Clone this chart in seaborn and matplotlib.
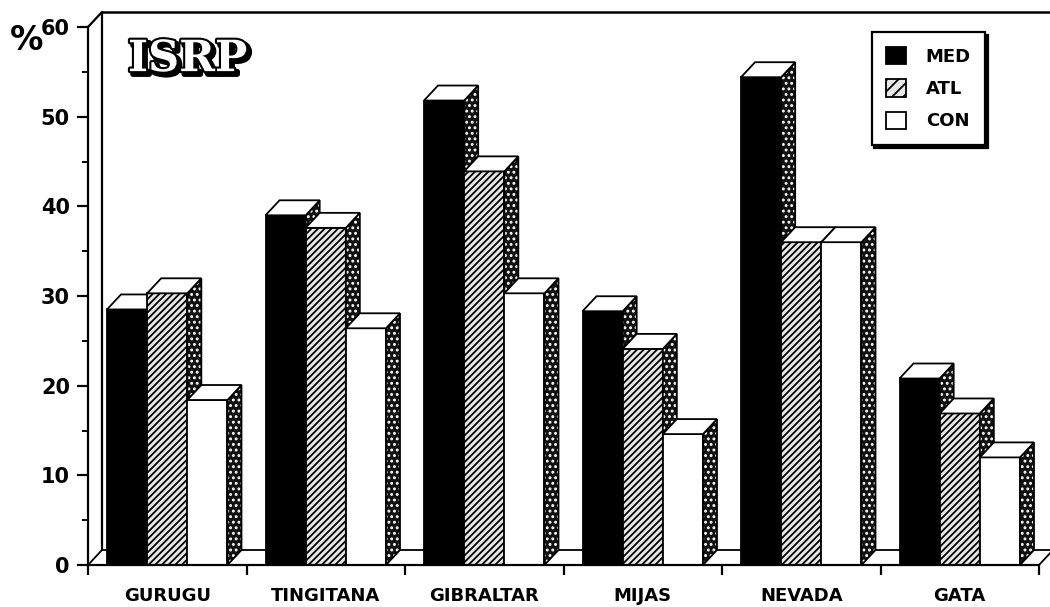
import numpy as np
import pandas as pd
import matplotlib
matplotlib.use("Agg")
import matplotlib.pyplot as plt
import seaborn as sns
from matplotlib.patches import Polygon, Patch
import matplotlib.patheffects as pe

# ---------------- data ----------------
regions = ["GURUGU", "TINGITANA", "GIBRALTAR", "MIJAS", "NEVADA", "GATA"]
series = ["MED", "ATL", "CON"]
med = [28.5, 39.0, 51.8, 28.3, 54.4, 20.8]
atl = [30.3, 37.6, 43.9, 24.1, 36.0, 16.9]
con = [18.4, 26.4, 30.3, 14.6, 36.0, 12.0]
yticks = [0, 10, 20, 30, 40, 50, 60]
title = "ISRP"
ylabel = "%"

# ---------------- styles ----------------
front_colors = {"MED": "black", "ATL": "#e8e8e8", "CON": "white"}
front_hatch = {"MED": "", "ATL": "/////", "CON": ""}

sns.set_style("ticks")
plt.rcParams["font.family"] = ["DejaVu Sans"]
plt.rcParams["font.weight"] = "bold"
plt.rcParams["hatch.linewidth"] = 1.3
for k in ["text.color", "axes.labelcolor", "xtick.color", "ytick.color",
          "axes.edgecolor"]:
    plt.rcParams[k] = "black"

rows = []
for s, vals in zip(series, [med, atl, con]):
    for r, v in zip(regions, vals):
        rows.append({"region": r, "series": s, "value": v})
df = pd.DataFrame(rows)

W, H = 1050, 607
fig = plt.figure(figsize=(W / 100, H / 100), dpi=100)
fig.patch.set_facecolor("white")
ax = fig.add_axes([88 / W, 42 / H, 951 / W, 538 / H])

sns.barplot(data=df, x="region", y="value", hue="series", order=regions,
            hue_order=series, palette=front_colors, width=0.76, gap=0,
            saturation=1, edgecolor="black", linewidth=1.3, legend=False,
            errorbar=None, ax=ax)

ax.set_xlim(-0.5, len(regions) - 0.5)
ax.set_ylim(0, 60)
ax.set_facecolor("white")

# depth of the pseudo-3D effect, in data units (from pixel depth)
p0 = ax.transData.transform((0, 0))
p1 = ax.transData.transform((1, 1))
dx = 14 / (p1[0] - p0[0])
dy = 15 / (p1[1] - p0[1])

LW = 1.3
for i, (s, cont) in enumerate(zip(series, ax.containers)):
    for rect in cont:
        x0, w, h = rect.get_x(), rect.get_width(), rect.get_height()
        z = 3 + i
        rect.set_zorder(z)
        rect.set_hatch(front_hatch[s])
        side_pts = [(x0 + w, 0), (x0 + w + dx, dy), (x0 + w + dx, h + dy), (x0 + w, h)]
        ax.add_patch(Polygon(side_pts, closed=True, facecolor="#111111", edgecolor="white",
                             hatch="...", lw=0, zorder=z + 0.1))
        ax.add_patch(Polygon(side_pts, closed=True, fill=False, edgecolor="black",
                             lw=LW, zorder=z + 0.15))
        top_pts = [(x0, h), (x0 + w, h), (x0 + w + dx, h + dy), (x0 + dx, h + dy)]
        ax.add_patch(Polygon(top_pts, closed=True, facecolor="white", edgecolor="black",
                             lw=LW, zorder=z + 0.2))

# floor
xl, xr = -0.5, len(regions) - 0.5
ax.add_patch(Polygon([(xl, 0), (xr, 0), (xr + dx, dy), (xl + dx, dy)], closed=True,
                     facecolor="white", edgecolor="black", lw=LW, zorder=2, clip_on=False))
# back walls
x_fig_right = ax.transData.inverted().transform((W, 0))[0]
ax.plot([xl + dx, xl + dx], [dy, 60 + dy], color="black", lw=1.6, clip_on=False, zorder=1)
ax.plot([xl + dx, x_fig_right], [60 + dy, 60 + dy], color="black", lw=1.8, clip_on=False, zorder=1)
ax.plot([xl, xl + dx], [60, 60 + dy], color="black", lw=1.6, clip_on=False, zorder=1)

# spines / ticks
for sp in ["top", "right"]:
    ax.spines[sp].set_visible(False)
for sp in ["left", "bottom"]:
    ax.spines[sp].set_linewidth(1.6)
    ax.spines[sp].set_zorder(10)

ax.set_yticks(yticks)
ax.set_yticks([t + 5 for t in yticks[:-1]], minor=True)
ax.set_xticks(range(len(regions)))
ax.set_xticklabels(regions)
ax.set_xticks([k - 0.5 for k in range(len(regions) + 1)], minor=True)
ax.tick_params(axis="y", which="major", length=8, width=1.6, labelsize=15, pad=5)
ax.tick_params(axis="y", which="minor", length=4, width=1.4)
ax.tick_params(axis="x", which="major", length=0, labelsize=13, pad=16)
ax.tick_params(axis="x", which="minor", length=7, width=1.6)
for lab in ax.get_xticklabels() + ax.get_yticklabels():
    lab.set_fontweight("bold")
ax.set_xlabel("")
ax.set_ylabel("")

fig.text(10 / W, 1 - 50 / H, ylabel, fontsize=24, fontweight="bold")

ax.text(0.042, 0.918, title, transform=ax.transAxes, fontsize=31,
        family=["DejaVu Serif"], fontweight="bold", color="white", zorder=20,
        path_effects=[pe.Stroke(linewidth=4, foreground="black", offset=(2.2, -2.2)),
                      pe.Stroke(linewidth=3, foreground="black"), pe.Normal()])

handles = [Patch(facecolor=front_colors[s], edgecolor="black", hatch=front_hatch[s][:3],
                 lw=1.3, label=s) for s in series]
leg = ax.legend(handles=handles, loc="upper left", bbox_to_anchor=(0.824, 0.99),
                frameon=True, fancybox=False, edgecolor="black", framealpha=1,
                shadow={"facecolor": "black", "edgecolor": "black", "alpha": 1},
                fontsize=13, handlelength=1.1, handleheight=1.1, borderpad=0.8,
                labelspacing=0.75, handletextpad=1.1, borderaxespad=0)
leg.get_frame().set_linewidth(1.6)
leg.set_zorder(30)
for t in leg.get_texts():
    t.set_fontweight("bold")

fig.savefig("out.png", dpi=100, facecolor="white")
